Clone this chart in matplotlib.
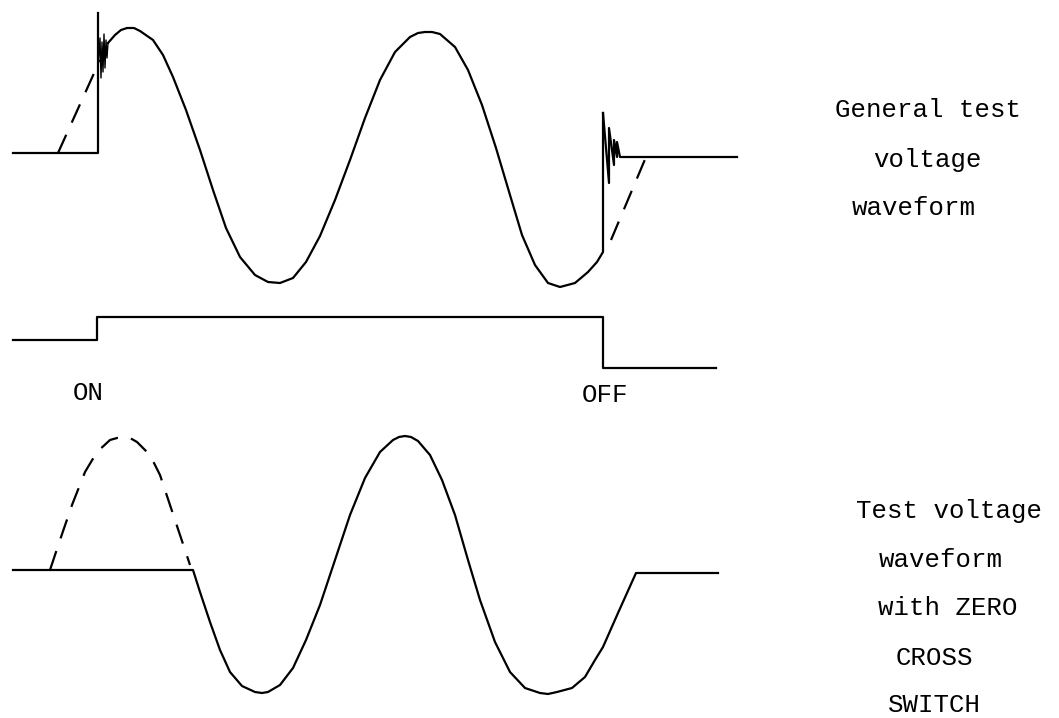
import numpy as np
import matplotlib.pyplot as plt

# Точки кривых (пиксели, y вниз)
# Верхняя осциллограма: общая форма испытательного напряжения
top_base_x = [13, 98, 98]
top_base_y = [153, 153, 13]
top_spike_x = [98, 100, 101, 102, 103, 104, 105, 106, 107, 108]
top_spike_y = [70, 38, 78, 42, 72, 34, 68, 40, 58, 43]
top_wave_x = [108, 115, 121, 127, 134, 140, 153, 163, 173, 186, 200, 213, 226, 240,
              255, 268, 280, 293, 306, 320, 335, 350, 365, 380, 395, 410, 418, 425,
              432, 440, 455, 468, 482, 496, 510, 522, 535, 548, 560, 575, 588, 597,
              603, 603]
top_wave_y = [43, 35, 30, 28, 28, 31, 40, 55, 77, 110, 150, 190, 228, 257,
              275, 282, 283, 278, 262, 236, 200, 160, 118, 80, 52, 37, 33, 32,
              32, 34, 47, 70, 105, 148, 195, 235, 265, 283, 287, 283, 272, 262,
              252, 113]
top_ring_x = [603, 609, 609, 614, 614, 617, 617, 620, 737]
top_ring_y = [113, 183, 128, 165, 140, 157, 142, 157, 157]
top_dash_on_x = [58, 100]
top_dash_on_y = [153, 60]
top_dash_off_x = [611, 646]
top_dash_off_y = [240, 157]

# Сигнал включения
gate_x = [13, 97, 97, 603, 603, 716]
gate_y = [340, 340, 317, 317, 368, 368]

# Нижняя осциллограма: с переключением в нуле
bot_wave_x = [13, 193, 200, 210, 220, 230, 242, 255, 262, 268, 280, 293, 306, 320,
              335, 350, 365, 380, 393, 399, 405, 411, 418, 430, 442, 455, 468, 480,
              495, 510, 525, 540, 548, 557, 572, 585, 595, 603, 618, 636, 718]
bot_wave_y = [570, 570, 592, 622, 650, 672, 686, 692, 693, 692, 685, 668, 640, 605,
              560, 515, 478, 452, 440, 437, 436, 437, 441, 455, 480, 515, 560, 600,
              642, 672, 688, 693, 694, 692, 688, 677, 660, 647, 613, 573, 573]
bot_dash_x = [50, 60, 72, 85, 97, 110, 117, 123, 130, 137, 150, 160, 170, 180, 190]
bot_dash_y = [570, 540, 505, 472, 452, 440, 438, 437, 438, 442, 455, 475, 505, 535, 565]

# Подписи
labels = ['ON', 'OFF']
label_x = [88, 605]
label_y = [393, 395]
top_text = ['General test', 'voltage', 'waveform']
top_text_x = [928, 927, 914]
top_text_y = [110, 160, 208]
bot_text = ['Test voltage', 'waveform', 'with ZERO', 'CROSS', 'SWITCH']
bot_text_x = [949, 941, 948, 934, 934]
bot_text_y = [511, 560, 608, 658, 705]

fig = plt.figure(figsize=(10.59, 7.18), dpi=100)
ax = fig.add_axes([0, 0, 1, 1])
ax.set_xlim(0, 1059)
ax.set_ylim(718, 0)
ax.axis('off')

lw = 1.6
solid = dict(color='black', linewidth=lw, solid_joinstyle='round')
dashed = dict(color='black', linewidth=lw, linestyle=(0, (9, 6)))

ax.plot(top_base_x, top_base_y, **solid)
ax.plot(top_spike_x, top_spike_y, color='black', linewidth=1.0)
ax.plot(top_wave_x, top_wave_y, **solid)
ax.plot(top_ring_x, top_ring_y, **solid)
ax.plot(top_dash_on_x, top_dash_on_y, **dashed)
ax.plot(top_dash_off_x, top_dash_off_y, **dashed)

ax.plot(gate_x, gate_y, **solid)

ax.plot(bot_wave_x, bot_wave_y, **solid)
ax.plot(bot_dash_x, bot_dash_y, **dashed)

font = dict(family='Liberation Mono', fontsize=18.5,
            color='black', va='center', ha='center')
for t, x, y in zip(labels, label_x, label_y):
    ax.text(x, y, t, **font)
for t, x, y in zip(top_text, top_text_x, top_text_y):
    ax.text(x, y, t, **font)
for t, x, y in zip(bot_text, bot_text_x, bot_text_y):
    ax.text(x, y, t, **font)

fig.savefig('out.png', dpi=100)
